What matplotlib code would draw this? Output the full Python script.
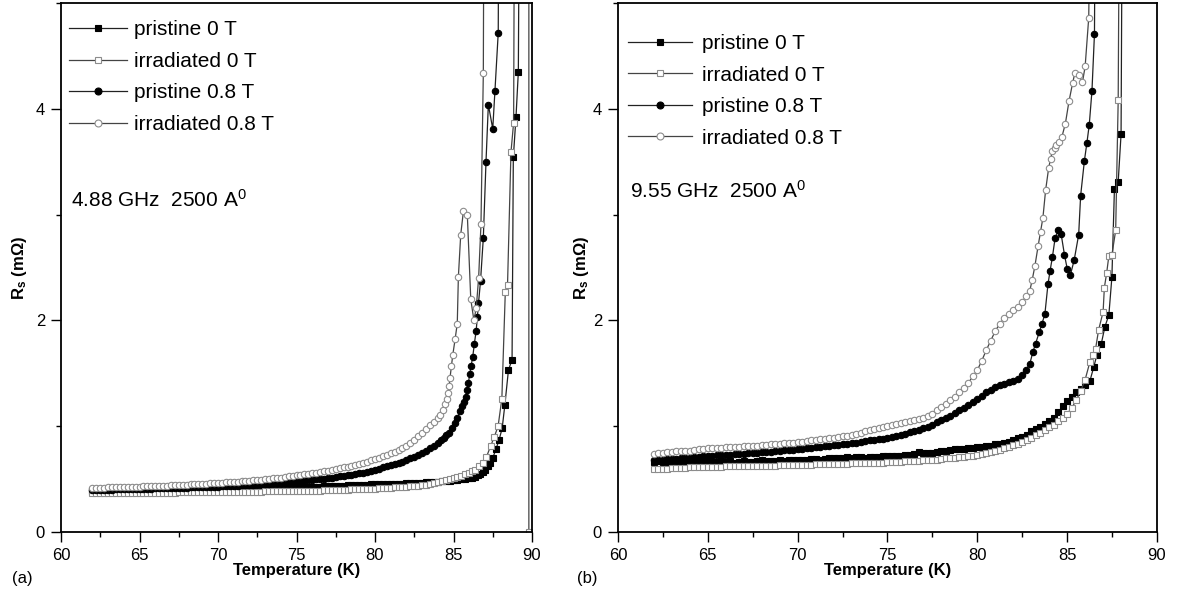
import matplotlib
matplotlib.use('Agg')
import matplotlib.pyplot as plt
from matplotlib.ticker import MultipleLocator
from matplotlib.lines import Line2D

plt.rcParams['font.family'] = ['Liberation Sans', 'DejaVu Sans']
plt.rcParams['mathtext.fontset'] = 'custom'
plt.rcParams['mathtext.rm'] = 'Liberation Sans'
plt.rcParams['mathtext.bf'] = 'Liberation Sans:bold'
plt.rcParams['mathtext.it'] = 'Liberation Sans:italic'

# shared measurement grid 62.00 ... 80.00 K (0.25 K steps)
temp_base = [62.0, 62.25, 62.5, 62.75, 63.0, 63.25, 63.5, 63.75, 64.0, 64.25, 64.5, 64.75,
             65.0, 65.25, 65.5, 65.75, 66.0, 66.25, 66.5, 66.75, 67.0, 67.25, 67.5, 67.75,
             68.0, 68.25, 68.5, 68.75, 69.0, 69.25, 69.5, 69.75, 70.0, 70.25, 70.5, 70.75,
             71.0, 71.25, 71.5, 71.75, 72.0, 72.25, 72.5, 72.75, 73.0, 73.25, 73.5, 73.75,
             74.0, 74.25, 74.5, 74.75, 75.0, 75.25, 75.5, 75.75, 76.0, 76.25, 76.5, 76.75,
             77.0, 77.25, 77.5, 77.75, 78.0, 78.25, 78.5, 78.75, 79.0, 79.25, 79.5, 79.75,
             80.0]

# ---------------- panel (a) 4.88 GHz ----------------
rs_a_pris0_base = [.39, .39, .39, .39, .39, .39, .39, .39, .39, .39, .39, .39,
                   .392, .392, .393, .393, .394, .394, .395, .395, .396, .396, .397, .397,
                   .398, .398, .399, .40, .40, .40, .401, .402, .402, .403, .404, .404,
                   .405, .406, .407, .408, .409, .41, .411, .412, .413, .414, .415, .416,
                   .417, .418, .419, .42, .421, .423, .424, .426, .427, .429, .43, .432,
                   .433, .435, .436, .438, .439, .441, .442, .444, .445, .447, .448, .45,
                   .451]
temp_a_pris0_tail = [80.25, 80.5, 80.75, 81.0, 81.25, 81.5, 81.75, 82.0, 82.25, 82.5, 82.75, 83.0,
                     83.25, 83.5, 83.75, 84.0, 84.25, 84.5, 84.75, 85.0, 85.25, 85.5, 85.75, 86.0,
                     86.2, 86.4, 86.55, 86.7, 86.85, 87.0, 87.2, 87.35, 87.5, 87.7, 87.9, 88.1,
                     88.27, 88.5, 88.73, 88.81, 88.98, 89.13, 89.3]
rs_a_pris0_tail = [.452, .453, .454, .455, .456, .457, .458, .46, .461, .463, .465, .467,
                   .469, .471, .473, .475, .478, .481, .485, .49, .495, .50, .505, .51,
                   .515, .52, .535, .55, .57, .59, .62, .65, .70, .78, .87, .98,
                   1.2, 1.53, 1.63, 3.54, 3.92, 4.35, 9.0]

rs_a_irr0_base = [.37, .37, .37, .37, .37, .37, .37, .37, .37, .37, .37, .37,
                  .37, .37, .371, .371, .372, .372, .372, .373, .373, .373, .374, .374,
                  .374, .375, .375, .375, .376, .376, .376, .377, .377, .378, .378, .378,
                  .379, .379, .38, .38, .381, .381, .382, .382, .383, .383, .384, .384,
                  .385, .385, .386, .386, .387, .388, .389, .39, .39, .391, .392, .393,
                  .395, .396, .397, .398, .40, .401, .403, .404, .405, .407, .408, .409,
                  .41]
temp_a_irr0_tail = [80.25, 80.5, 80.75, 81.0, 81.25, 81.5, 81.75, 82.0, 82.25, 82.5, 82.75, 83.0,
                    83.25, 83.5, 83.75, 84.0, 84.25, 84.5, 84.75, 85.0, 85.25, 85.5, 85.75, 86.0,
                    86.2, 86.4, 86.65, 86.9, 87.1, 87.36, 87.6, 87.84, 88.08, 88.3, 88.44, 88.66,
                    88.83, 88.95, 89.8, 89.8]
rs_a_irr0_tail = [.412, .415, .417, .42, .422, .425, .427, .43, .432, .435, .437, .44,
                  .447, .455, .462, .47, .48, .49, .50, .51, .52, .53, .545, .56,
                  .575, .59, .62, .65, .71, .81, .9, 1.0, 1.26, 2.27, 2.33, 3.59,
                  3.87, 9.0, 9.0, 0.0]

rs_a_pris08_base = [.40, .40, .40, .40, .40, .40, .402, .403, .404, .405, .406, .407,
                    .408, .409, .41, .411, .412, .413, .414, .415, .416, .417, .418, .419,
                    .42, .421, .422, .423, .425, .426, .428, .429, .43, .432, .433, .435,
                    .437, .439, .441, .443, .445, .448, .45, .452, .455, .458, .46, .463,
                    .466, .469, .472, .475, .478, .481, .485, .489, .493, .497, .50, .505,
                    .51, .515, .52, .525, .53, .535, .54, .547, .555, .562, .57, .58,
                    .59]
temp_a_pris08_tail = [80.25, 80.5, 80.75, 81.0, 81.25, 81.5, 81.75, 82.0, 82.25, 82.5, 82.75, 83.0,
                      83.25, 83.5, 83.75, 84.0, 84.2, 84.4, 84.55, 84.7, 84.9, 85.1, 85.25, 85.4,
                      85.55, 85.67, 85.77, 85.87, 85.95, 86.03, 86.12, 86.22, 86.33, 86.44, 86.52,
                      86.59, 86.72, 86.9, 87.07, 87.22, 87.5, 87.64, 87.85, 87.95]
rs_a_pris08_tail = [.60, .61, .62, .63, .64, .655, .665, .68, .695, .71, .73, .75,
                    .77, .79, .815, .84, .865, .89, .915, .94, .985, 1.03, 1.08, 1.14,
                    1.19, 1.23, 1.28, 1.34, 1.41, 1.49, 1.57, 1.65, 1.78, 1.9, 2.03,
                    2.16, 2.37, 2.78, 3.5, 4.04, 3.81, 4.17, 4.72, 9.0]

rs_a_irr08_base = [.42, .42, .42, .42, .421, .422, .423, .424, .425, .426, .427, .428,
                   .43, .431, .432, .433, .435, .436, .438, .439, .44, .442, .443, .445,
                   .447, .449, .451, .453, .455, .457, .459, .461, .463, .465, .468, .47,
                   .473, .476, .479, .482, .485, .488, .491, .495, .499, .503, .507, .511,
                   .515, .52, .525, .53, .535, .54, .545, .55, .556, .562, .568, .574,
                   .58, .587, .595, .602, .61, .618, .626, .635, .645, .655, .665, .677,
                   .69]
temp_a_irr08_tail = [80.25, 80.5, 80.75, 81.0, 81.25, 81.5, 81.75, 82.0, 82.25, 82.5, 82.75, 83.0,
                     83.25, 83.5, 83.75, 84.0, 84.15, 84.3, 84.47, 84.57, 84.66, 84.72, 84.78,
                     84.87, 84.95, 85.1, 85.24, 85.31, 85.46, 85.63, 85.88, 86.1, 86.3, 86.45,
                     86.6, 86.75, 86.9, 87.0]
rs_a_irr08_tail = [.70, .715, .73, .745, .76, .775, .79, .81, .84, .87, .905, .94,
                   .975, 1.01, 1.04, 1.08, 1.11, 1.15, 1.21, 1.26, 1.31, 1.38, 1.46,
                   1.57, 1.67, 1.82, 1.97, 2.41, 2.81, 3.03, 3.0, 2.2, 2.0, 2.12,
                   2.4, 2.91, 4.34, 9.0]

# ---------------- panel (b) 9.55 GHz ----------------
rs_b_pris0_base = [.66, .67, .665, .66, .67, .665, .66, .67, .66, .665, .67, .665,
                   .67, .66, .665, .67, .66, .67, .65, .665, .67, .66, .665, .67,
                   .68, .67, .675, .67, .68, .675, .68, .685, .68, .685, .68, .69,
                   .69, .685, .69, .695, .695, .70, .70, .705, .70, .705, .71, .70,
                   .705, .71, .71, .715, .715, .72, .72, .72, .73, .725, .735, .76,
                   .75, .745, .75, .755, .77, .765, .775, .78, .78, .785, .79, .795,
                   .80]
temp_b_pris0_tail = [80.25, 80.5, 80.75, 81.0, 81.25, 81.5, 81.75, 82.0, 82.25, 82.5, 82.75, 83.0,
                     83.25, 83.5, 83.75, 84.0, 84.25, 84.5, 84.75, 85.0, 85.25, 85.5, 85.75, 86.0,
                     86.27, 86.48, 86.65, 86.9, 87.1, 87.32, 87.49, 87.63, 87.84, 88.0, 88.15]
rs_b_pris0_tail = [.805, .81, .815, .83, .835, .84, .855, .87, .885, .90, .92, .95,
                   .97, .99, 1.02, 1.05, 1.08, 1.13, 1.19, 1.24, 1.28, 1.32, 1.35, 1.39,
                   1.43, 1.56, 1.67, 1.78, 1.94, 2.05, 2.41, 3.24, 3.31, 3.76, 9.0]

rs_b_irr0_base = [.60, .60, .60, .60, .605, .605, .605, .605, .61, .61, .61, .61,
                  .615, .615, .615, .615, .62, .62, .62, .62, .62, .62, .62, .62,
                  .625, .625, .625, .625, .63, .63, .63, .63, .635, .635, .635, .635,
                  .64, .64, .64, .64, .645, .645, .645, .645, .65, .65, .65, .65,
                  .655, .655, .655, .655, .66, .66, .665, .665, .67, .67, .675, .675,
                  .68, .68, .685, .685, .69, .695, .70, .70, .705, .71, .715, .72,
                  .73]
temp_b_irr0_tail = [80.25, 80.5, 80.75, 81.0, 81.25, 81.5, 81.75, 82.0, 82.25, 82.5, 82.75, 83.0,
                    83.25, 83.5, 83.75, 84.0, 84.25, 84.5, 84.75, 85.0, 85.25, 85.5, 85.75, 86.0,
                    86.27, 86.42, 86.58, 86.75, 87.0, 87.07, 87.2, 87.32, 87.49, 87.7, 87.84, 88.0]
rs_b_irr0_tail = [.735, .745, .755, .765, .775, .79, .805, .82, .835, .85, .87, .89,
                  .915, .94, .965, .99, 1.01, 1.045, 1.08, 1.12, 1.17, 1.245, 1.33, 1.44,
                  1.61, 1.67, 1.73, 1.91, 2.08, 2.31, 2.45, 2.61, 2.62, 2.85, 4.08, 9.0]

rs_b_pris08_base = [.68, .682, .685, .687, .69, .692, .695, .697, .70, .705, .71, .715,
                    .72, .722, .725, .727, .73, .732, .735, .737, .74, .742, .745, .75,
                    .755, .757, .76, .765, .77, .772, .775, .777, .78, .785, .79, .795,
                    .80, .805, .81, .815, .82, .825, .83, .835, .84, .845, .85, .857,
                    .865, .87, .875, .882, .89, .90, .91, .92, .93, .942, .955, .967,
                    .98, .995, 1.01, 1.035, 1.06, 1.08, 1.10, 1.125, 1.15, 1.175, 1.20, 1.23,
                    1.26]
temp_b_pris08_tail = [80.25, 80.5, 80.75, 81.0, 81.25, 81.5, 81.75, 82.0, 82.25, 82.5, 82.7, 82.92,
                      83.09, 83.24, 83.45, 83.6, 83.76, 83.93, 84.05, 84.18, 84.33, 84.5, 84.66,
                      84.85, 85.0, 85.18, 85.39, 85.64, 85.75, 85.96, 86.1, 86.23, 86.38, 86.52,
                      86.65]
rs_b_pris08_tail = [1.29, 1.32, 1.345, 1.37, 1.385, 1.40, 1.415, 1.43, 1.45, 1.48, 1.53, 1.59,
                    1.70, 1.78, 1.89, 1.97, 2.06, 2.34, 2.47, 2.6, 2.78, 2.85, 2.82,
                    2.62, 2.49, 2.43, 2.57, 2.81, 3.18, 3.51, 3.68, 3.85, 4.17, 4.71,
                    9.0]

rs_b_irr08_base = [.74, .745, .75, .755, .76, .762, .765, .767, .77, .775, .78, .785,
                   .79, .792, .795, .797, .80, .802, .805, .807, .81, .812, .815, .817,
                   .82, .825, .83, .832, .835, .837, .84, .845, .85, .855, .86, .865,
                   .87, .875, .88, .885, .89, .897, .905, .912, .92, .93, .94, .95,
                   .96, .97, .98, .99, 1.0, 1.01, 1.02, 1.03, 1.04, 1.05, 1.06, 1.07,
                   1.08, 1.10, 1.12, 1.15, 1.18, 1.21, 1.25, 1.28, 1.32, 1.36, 1.41, 1.47,
                   1.53]
temp_b_irr08_tail = [80.25, 80.5, 80.75, 81.0, 81.25, 81.5, 81.75, 82.0, 82.25, 82.5, 82.7, 82.92,
                     83.05, 83.2, 83.38, 83.52, 83.65, 83.8, 83.97, 84.08, 84.18, 84.3, 84.4,
                     84.55, 84.7, 84.9, 85.1, 85.3, 85.43, 85.64, 85.85, 86.0, 86.2, 86.5]
rs_b_irr08_tail = [1.62, 1.72, 1.81, 1.9, 1.97, 2.02, 2.06, 2.1, 2.13, 2.17, 2.23, 2.28,
                   2.38, 2.51, 2.7, 2.84, 2.97, 3.23, 3.44, 3.53, 3.6, 3.63, 3.66,
                   3.69, 3.73, 3.86, 4.07, 4.24, 4.34, 4.32, 4.25, 4.4, 4.86, 9.0]

labels = ['pristine 0 T', 'irradiated 0 T', 'pristine 0.8 T', 'irradiated 0.8 T']
annot_a = '4.88 GHz  2500 A$^{0}$'
annot_b = '9.55 GHz  2500 A$^{0}$'

# ---------------- styles ----------------
GREY = '#8c8c8c'
styles = [
    dict(marker='s', mfc='black', mec='black', color='#222222'),
    dict(marker='s', mfc='white', mec=GREY, color='#444444'),
    dict(marker='o', mfc='black', mec='black', color='#222222'),
    dict(marker='o', mfc='white', mec=GREY, color='#444444'),
]
MS = 4.6
LW = 0.9

W, H = 1179, 599
fig = plt.figure(figsize=(W / 100, H / 100), dpi=100)
ax_a = fig.add_axes([61 / W, 67 / H, 471 / W, 529 / H])
ax_b = fig.add_axes([618 / W, 67 / H, 539 / W, 529 / H])

series_a = [
    (temp_base + temp_a_pris0_tail, rs_a_pris0_base + rs_a_pris0_tail),
    (temp_base + temp_a_irr0_tail, rs_a_irr0_base + rs_a_irr0_tail),
    (temp_base + temp_a_pris08_tail, rs_a_pris08_base + rs_a_pris08_tail),
    (temp_base + temp_a_irr08_tail, rs_a_irr08_base + rs_a_irr08_tail),
]
series_b = [
    (temp_base + temp_b_pris0_tail, rs_b_pris0_base + rs_b_pris0_tail),
    (temp_base + temp_b_irr0_tail, rs_b_irr0_base + rs_b_irr0_tail),
    (temp_base + temp_b_pris08_tail, rs_b_pris08_base + rs_b_pris08_tail),
    (temp_base + temp_b_irr08_tail, rs_b_irr08_base + rs_b_irr08_tail),
]


def style_axes(ax, series, annot, leg_anchor, hlen, hpad, annot_xy, ylabel_x,
               panel_label, panel_x):
    for (t, r), st, lab in zip(series, styles, labels):
        ax.plot(t, r, linestyle='-', lw=LW, ms=MS, mew=0.8, label=lab, **st)
    ax.set_xlim(60, 90)
    ax.set_ylim(0, 5)
    ax.xaxis.set_major_locator(MultipleLocator(5))
    ax.xaxis.set_minor_locator(MultipleLocator(2.5))
    ax.yaxis.set_major_locator(MultipleLocator(2))
    ax.yaxis.set_minor_locator(MultipleLocator(1))
    ax.tick_params(which='major', direction='out', length=7, width=1.0, labelsize=12, pad=4.5)
    ax.tick_params(which='minor', direction='out', length=3.6, width=1.0)
    for sp in ax.spines.values():
        sp.set_linewidth(1.3)
    ax.set_xlabel('Temperature (K)', fontsize=12, fontweight='bold')
    ax.xaxis.set_label_coords(0.5, -0.058)
    ax.set_ylabel(r'$\mathbf{R_s}$ (m$\mathbf{\Omega}$)', fontsize=12, fontweight='bold')
    ax.yaxis.set_label_coords(ylabel_x, 0.5)
    handles = [Line2D([], [], linestyle='-', lw=LW, ms=MS + 0.4, mew=0.8, **st) for st in styles]
    ax.legend(handles, labels, loc='upper left', bbox_to_anchor=leg_anchor, frameon=False,
              fontsize=15, handlelength=hlen, handletextpad=hpad, labelspacing=0.6,
              borderpad=0, borderaxespad=0, numpoints=1)
    ax.text(annot_xy[0], annot_xy[1], annot, transform=ax.transAxes, fontsize=15,
            ha='left', va='center')
    fig.text(panel_x / W, 1 - 578 / H, panel_label, fontsize=12, ha='left', va='center')


style_axes(ax_a, series_a, annot_a, (0.018, 0.967), 2.74, 0.34, (0.021, 0.628), -0.068,
           '(a)', 12)
style_axes(ax_b, series_b, annot_b, (0.018, 0.941), 3.08, 0.48, (0.023, 0.644), -0.050,
           '(b)', 577)

fig.savefig('out.png', dpi=100)
